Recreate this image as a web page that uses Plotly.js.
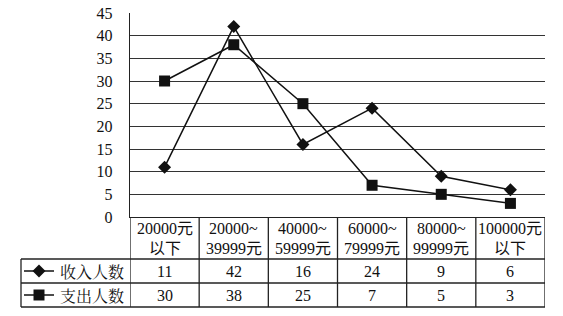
<!DOCTYPE html>
<html>
<head>
<meta charset="utf-8">
<script src="https://cdn.plot.ly/plotly-3.0.1.min.js"></script>
<style>html,body{margin:0;padding:0;background:#fff;}#chart{width:563px;height:316px;}</style>
</head>
<body>
<div id="chart"></div>
<script>
const categories = ["20000元<br>以下", "20000~<br>39999元", "40000~<br>59999元", "60000~<br>79999元", "80000~<br>99999元", "100000元<br>以下"];
const seriesNames = ["收入人数", "支出人数"];
const income = [11, 42, 16, 24, 9, 6];
const expense = [30, 38, 25, 7, 5, 3];
const yTicks = [0, 5, 10, 15, 20, 25, 30, 35, 40, 45];

const W = 563, H = 316;
const L = 130, R = 18, T = 13, B = 99;
const PW = W - L - R, PH = H - T - B;
const px = x => (x - L) / PW;            // pixel x -> paper
const py = y => (H - B - y) / PH;        // pixel y -> paper

const FONT = "Liberation Serif, 'Times New Roman', 'Noto Sans CJK SC', serif";
const xs = categories.map((_, i) => i);

const traces = [
  {x: xs, y: income, name: seriesNames[0], type: "scatter", mode: "lines+markers",
   line: {color: "#111", width: 1.5}, marker: {symbol: "diamond", size: 10, color: "#111"}},
  {x: xs, y: expense, name: seriesNames[1], type: "scatter", mode: "lines+markers",
   line: {color: "#111", width: 1.5}, marker: {symbol: "square", size: 11, color: "#111"}}
];

const lc = {color: "#222", width: 1.3};
const shapes = [];
const annotations = [];
const rowTop = 259, row1 = 283, row2 = 307, legLeft = 21;
// horizontal table lines
[rowTop, row1, row2].forEach(y => shapes.push({type: "line", xref: "paper", yref: "paper",
  x0: px(legLeft), x1: 1, y0: py(y), y1: py(y), line: lc}));
// legend column left border
shapes.push({type: "line", xref: "paper", yref: "paper", x0: px(legLeft), x1: px(legLeft), y0: py(rowTop), y1: py(row2), line: lc});
// vertical column lines (category boundaries)
for (let k = 0; k <= categories.length; k++) {
  shapes.push({type: "line", xref: "x", yref: "paper", x0: k - 0.5, x1: k - 0.5, y0: 0, y1: py(row2), line: lc});
}
// category labels (two lines each)
categories.forEach((c, i) => c.split("<br>").forEach((part, j) => annotations.push({x: i, xref: "x",
  y: py(j === 0 ? 228.5 : 248.5), yref: "paper", text: part,
  showarrow: false, font: {family: FONT, size: 16, color: "#111"}, xanchor: "center", yanchor: "middle"})));
// data rows
[income, expense].forEach((arr, r) => {
  const yc = r === 0 ? 271 : 295;
  arr.forEach((v, i) => annotations.push({x: i, xref: "x", y: py(yc), yref: "paper", text: String(v),
    showarrow: false, font: {family: FONT, size: 16, color: "#111"}, xanchor: "center", yanchor: "middle"}));
  // legend key line
  shapes.push({type: "line", xref: "paper", yref: "paper", x0: px(24), x1: px(54), y0: py(yc), y1: py(yc), line: {color: "#111", width: 1.5}});
  const cx = 39;
  if (r === 0) {
    const d = 6.5;
    shapes.push({type: "path", xref: "paper", yref: "paper",
      path: `M ${px(cx - d)} ${py(yc)} L ${px(cx)} ${py(yc - d)} L ${px(cx + d)} ${py(yc)} L ${px(cx)} ${py(yc + d)} Z`,
      fillcolor: "#111", line: {color: "#111", width: 0}});
  } else {
    const d = 5.5;
    shapes.push({type: "rect", xref: "paper", yref: "paper", x0: px(cx - d), x1: px(cx + d), y0: py(yc + d), y1: py(yc - d),
      fillcolor: "#111", line: {color: "#111", width: 0}});
  }
  annotations.push({x: px(58), xref: "paper", y: py(yc), yref: "paper", text: seriesNames[r], showarrow: false,
    font: {family: "'Noto Serif CJK SC', 'Noto Sans CJK SC', serif", size: 16, color: "#111"}, xanchor: "left", yanchor: "middle"});
});

const layout = {
  width: W, height: H,
  margin: {l: L, r: R, t: T, b: B, pad: 0},
  paper_bgcolor: "#fff", plot_bgcolor: "#fff",
  showlegend: false,
  xaxis: {range: [-0.5, categories.length - 0.5], showgrid: false, zeroline: false, showticklabels: false,
    showline: true, linecolor: "#222", linewidth: 1.3, ticks: "", fixedrange: true},
  yaxis: {range: [0, 45], tickvals: yTicks, ticktext: yTicks.map(String), showgrid: true, gridcolor: "#333", gridwidth: 1,
    zeroline: false, showline: true, linecolor: "#222", linewidth: 1.3,
    ticks: "outside", ticklen: 13, tickcolor: "rgba(0,0,0,0)",
    tickfont: {family: FONT, size: 16, color: "#111"}, fixedrange: true},
  shapes: shapes,
  annotations: annotations
};
Plotly.newPlot("chart", traces, layout, {displayModeBar: false, staticPlot: true});
</script>
</body>
</html>
